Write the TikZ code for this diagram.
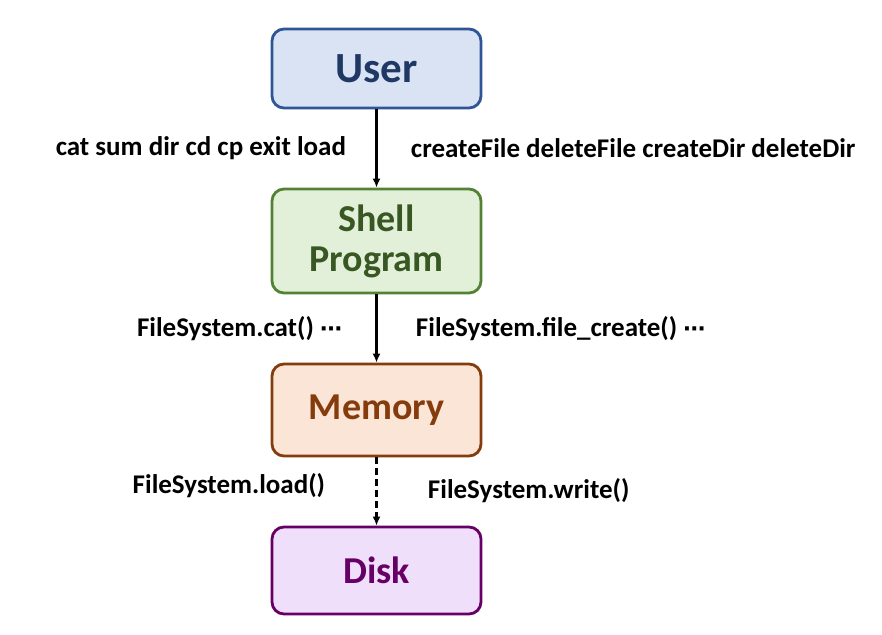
\documentclass[tikz,border=0pt]{standalone}
\usepackage{fontspec}
\setmainfont{Carlito}
\newfontfamily\dotsfont{DejaVu Sans}
\usetikzlibrary{arrows.meta}

\definecolor{userfill}{HTML}{DAE3F3}
\definecolor{userline}{HTML}{2F5597}
\definecolor{usertext}{HTML}{203864}
\definecolor{shellfill}{HTML}{E2F0D9}
\definecolor{shellline}{HTML}{548235}
\definecolor{shelltext}{HTML}{385723}
\definecolor{memfill}{HTML}{FBE5D6}
\definecolor{memline}{HTML}{843C0C}
\definecolor{diskfill}{HTML}{F0DFFA}
\definecolor{diskline}{HTML}{660066}

\begin{document}
\begin{tikzpicture}[x=1pt,y=-1pt,
	block/.style={draw,rounded corners=12pt,line width=2.8pt,minimum width=209pt,align=center,font=\fontsize{38}{40}\selectfont\bfseries},
	call/.style={line width=2.3pt,-{Latex[length=9pt,width=8pt]}},
	lbl/.style={font=\fontsize{27}{30}\selectfont\bfseries}]
	\useasboundingbox (0,0) rectangle (882,634);
	\draw (376.5,68.5) node[block,minimum height=79pt,fill=userfill,draw=userline,text=usertext,font=\fontsize{43}{46}\selectfont\bfseries](U){User}
	(376.5,241) node[block,minimum height=104pt,fill=shellfill,draw=shellline,text=shelltext] (S) {Shell\\Program};
	\draw (376.5,410) node[block,minimum height=92pt,fill=memfill,draw=memline,text=memline] (M) {Memory}
	(376.5,570.5) node[block,minimum height=87pt,fill=diskfill,draw=diskline,text=diskline] (D) {Disk};
	\draw[call] (U) -- (S)
		node[lbl,midway,left=26pt]{cat sum dir cd cp exit load}
		node[lbl,midway,right=30pt]{createFile deleteFile createDir deleteDir};
	\draw[call] (S) -- (M)
		node[lbl,midway,left=30pt]{FileSystem.cat() {\dotsfont\fontsize{22}{26}\selectfont ⋯}}
		node[lbl,midway,right=35pt]{FileSystem.file\_create() {\dotsfont\fontsize{22}{26}\selectfont ⋯}};
	\draw[call,dash pattern=on 7pt off 4pt] (M) -- (D)
		node[lbl,pos=0.42,left=47pt]{FileSystem.load()}
		node[lbl,pos=0.48,right=47pt]{FileSystem.write()};
\end{tikzpicture}
\end{document}
